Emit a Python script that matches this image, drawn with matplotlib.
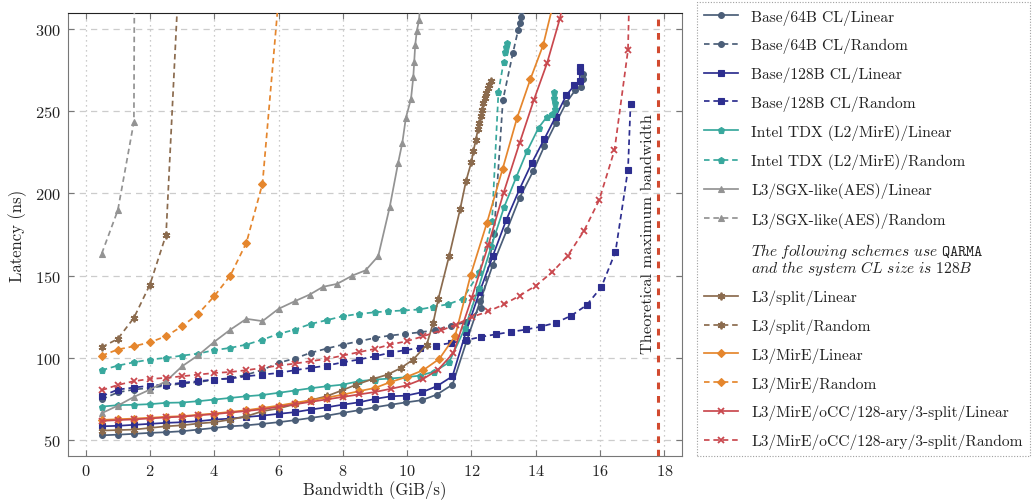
import matplotlib
matplotlib.use('Agg')
import matplotlib.pyplot as plt
from matplotlib.lines import Line2D

plt.rcParams['font.family'] = ['cmr10', 'DejaVu Serif']
plt.rcParams['mathtext.fontset'] = 'cm'
plt.rcParams['axes.formatter.use_mathtext'] = True
plt.rcParams['axes.unicode_minus'] = False

# ---------------- data ----------------
base64_lin_x = [0.5, 1.0, 1.5, 2.0, 2.5, 3.0, 3.5, 4.0, 4.5, 5.0, 5.5, 6.0, 6.5, 7.0, 7.5, 8.0, 8.5, 9.0, 9.5,
                9.97, 10.45, 10.92, 11.41, 11.85, 12.27, 12.67, 13.1, 13.5, 13.92, 14.27, 14.62, 14.95, 15.23, 15.42, 15.47, 15.47]
base64_lin_y = [52.6, 53.0, 53.5, 54.1, 54.5, 55.1, 56.1, 57.1, 58.1, 58.7, 59.6, 60.6, 61.8, 63.2, 64.6, 66.3, 67.9, 69.7, 71.3,
                72.7, 74.0, 77.4, 83.5, 110, 134.3, 156.7, 177.6, 197.4, 213.6, 228.9, 242.7, 255.3, 263.0, 265.1, 269.5, 272.6]

base64_rnd_x = [0.5, 1.0, 1.5, 2.0, 2.5, 3.0, 3.5, 4.0, 4.5, 5.0, 5.5, 6.0, 6.5, 7.0, 7.5, 8.0, 8.5, 9.0,
                9.46, 9.93, 10.4, 10.87, 11.36, 11.83, 12.3, 12.7, 12.98, 13.29, 13.45, 13.5, 13.53, 13.55, 13.57]
base64_rnd_y = [74.5, 78.8, 80.5, 81.5, 82.9, 84.1, 85.0, 86.5, 87.5, 89.5, 92.5, 96.8, 99.4, 102.9, 105.5, 107.9, 109.9, 112.0,
                113.4, 114.4, 115.4, 116.7, 119.5, 121.5, 130, 175, 257, 285.6, 299.4, 304, 307.5, 311, 315]

base128_lin_x = [0.5, 1.0, 1.5, 2.0, 2.5, 3.0, 3.5, 4.0, 4.5, 5.0, 5.5, 6.0, 6.5, 7.0, 7.5, 8.0, 8.5, 9.0, 9.5,
                 9.97, 10.45, 10.92, 11.41, 11.83, 12.25, 12.67, 13.08, 13.5, 13.88, 14.27, 14.62, 14.95, 15.2, 15.37, 15.37, 15.37]
base128_lin_y = [58.1, 58.4, 59.0, 59.6, 60.2, 60.6, 61.2, 62.2, 62.8, 63.8, 64.6, 65.7, 66.7, 68.3, 69.7, 71.3, 72.7, 74.8, 76.4,
                 76.8, 78.8, 82.5, 88.6, 115.7, 139.8, 162.2, 183.7, 202.8, 218.7, 233.3, 246.8, 259.8, 265.9, 268.5, 274.6, 277]

base128_rnd_x = [0.5, 1.0, 1.5, 2.0, 2.5, 3.0, 3.5, 4.0, 4.5, 5.0, 5.5, 6.0, 6.5, 7.0, 7.5, 8.0, 8.5, 9.0,
                 9.46, 9.93, 10.4, 10.89, 11.36, 11.83, 12.3, 12.77, 13.24, 13.71, 14.17, 14.64, 15.11, 15.58, 16.04, 16.48, 16.87, 16.95]
base128_rnd_y = [76.4, 80.5, 81.7, 82.9, 83.5, 84.6, 85.6, 86.6, 87.2, 88.6, 89.6, 90.6, 92.3, 93.7, 95.1, 97.1, 98.8, 100.8,
                 102.9, 104.5, 105.9, 107.3, 108.9, 110.6, 112.6, 114.2, 115.7, 117.1, 118.9, 121.3, 125.6, 131.9, 142.9, 164.4, 214.6, 254.7]

tdx_lin_x = [0.5, 1.0, 1.5, 2.0, 2.5, 3.0, 3.5, 4.0, 4.5, 5.0, 5.5, 6.0, 6.5, 7.0, 7.5, 8.0, 8.5, 9.0,
             9.46, 9.95, 10.4, 10.85, 11.3, 11.8, 12.22, 12.62, 13.02, 13.4, 13.73, 14.09, 14.35, 14.51, 14.61, 14.61, 14.58, 14.58]
tdx_lin_y = [70.1, 71.0, 71.2, 71.6, 72.4, 72.6, 73.4, 74.4, 75.4, 76.4, 77.2, 78.5, 79.9, 81.3, 82.5, 83.5, 85.6, 86.6,
             87.2, 88.0, 89.0, 91.5, 97.0, 118, 142.5, 168, 191.9, 210.2, 225.8, 240.1, 246.8, 248.2, 251.2, 255.3, 258.3, 261.8]

tdx_rnd_x = [0.5, 1.0, 1.5, 2.0, 2.5, 3.0, 3.5, 4.0, 4.5, 5.0, 5.5, 6.0, 6.5, 7.0, 7.5, 8.0, 8.5, 9.0,
             9.41, 9.88, 10.38, 10.81, 11.28, 11.73, 12.25, 12.64, 12.84, 13.0, 13.05, 13.08, 13.1]
tdx_rnd_y = [92.3, 95.1, 97.1, 98.8, 99.8, 101.2, 102.4, 104.5, 105.9, 107.9, 110.9, 114.4, 117.0, 120.5, 122.8, 125.2, 126.6, 127.6,
             128.2, 128.7, 129.3, 130.9, 132.5, 135.8, 152, 183, 262, 280, 286, 289, 292]

sgx_lin_x = [0.5, 1.0, 1.5, 2.0, 2.5, 3.0, 3.5, 4.0, 4.5, 5.0, 5.5, 6.0, 6.5,
             6.97, 7.38, 7.82, 8.3, 8.71, 9.1, 9.46, 9.72, 9.85, 9.96, 10.12, 10.19, 10.22, 10.25, 10.3, 10.37, 10.45]
sgx_lin_y = [66.1, 70.7, 76.0, 80.5, 85.6, 94.7, 101.4, 109.6, 117.0, 123.6, 122.2, 129.7, 134.3,
             138.4, 143.1, 144.9, 150.0, 153.2, 161.8, 191.9, 218.7, 230.9, 246.1, 257.7, 270.7, 280.3, 290.2, 299.0, 305.5, 330]

sgx_rnd_x = [0.5, 1.0, 1.5, 1.53]
sgx_rnd_y = [163.4, 189.8, 243.7, 400]

split_lin_x = [0.5, 1.0, 1.5, 2.0, 2.5, 3.0, 3.5, 4.0, 4.5, 5.0, 5.5, 6.0, 6.5, 7.0, 7.5,
               7.96, 8.42, 8.94, 9.39, 9.81, 10.19, 10.61, 10.81, 10.97, 11.31, 11.65, 11.83, 12.0, 12.06, 12.14,
               12.2, 12.25, 12.3, 12.33, 12.37, 12.41, 12.45, 12.5, 12.55, 12.6]
split_lin_y = [55.5, 55.8, 56.1, 57.1, 58.1, 58.7, 59.8, 60.6, 62.2, 64.2, 67.3, 69.0, 71.5, 74.0, 76.5,
               79.9, 83.5, 87.0, 89.6, 93.7, 98.8, 107.9, 121.2, 135.8, 162.2, 190.6, 207.5, 219.3, 225.8, 232.9,
               239.0, 243, 247, 251, 255, 258, 261, 264, 266, 268.5]

split_rnd_x = [0.5, 1.0, 1.5, 2.0, 2.5, 3.0]
split_rnd_y = [106.3, 111.4, 124.2, 144.5, 174.8, 373]

mire_lin_x = [0.5, 1.0, 1.5, 2.0, 2.5, 3.0, 3.5, 4.0, 4.5, 5.0, 5.5, 6.0, 6.5, 7.0, 7.5, 8.0, 8.5, 9.0,
              9.46, 9.98, 10.5, 11.0, 11.49, 11.98, 12.48, 12.97, 13.42, 13.83, 14.23, 14.6]
mire_lin_y = [62.0, 62.4, 62.8, 63.3, 63.9, 64.3, 65.1, 65.9, 66.9, 67.9, 69.3, 70.7, 72.4, 74.0, 75.6, 77.4, 79.5, 81.5,
              84.9, 88.2, 92.3, 99.2, 113.0, 150.6, 182.0, 215.0, 246.1, 269.5, 290.4, 320]

mire_rnd_x = [0.5, 1.0, 1.5, 2.0, 2.5, 3.0, 3.5, 4.0, 4.5, 5.0, 5.5, 6.05]
mire_rnd_y = [101.2, 104.9, 106.9, 109.3, 113.0, 119.1, 126.6, 137.4, 150.0, 170.0, 206.0, 330]

occ_lin_x = [0.5, 1.0, 1.5, 2.0, 2.5, 3.0, 3.5, 4.0, 4.5, 5.0, 5.5, 6.0, 6.5, 7.0, 7.5, 8.0, 8.5, 9.0, 9.5,
             9.98, 10.5, 10.97, 11.44, 12.01, 12.53, 13.0, 13.5, 13.94, 14.35, 14.75, 15.0]
occ_lin_y = [61.4, 61.9, 62.3, 62.9, 63.5, 64.0, 64.8, 65.5, 66.5, 67.4, 68.5, 70.0, 71.5, 73.0, 74.5, 76.0, 77.5, 79.0, 81.0,
             83.0, 87.0, 92.7, 102.9, 136.4, 168.9, 200.4, 230.9, 256.9, 279.3, 306.5, 330]

occ_rnd_x = [0.5, 1.0, 1.5, 2.0, 2.5, 3.0, 3.5, 4.0, 4.5, 5.0, 5.5, 6.0, 6.5, 7.0, 7.5, 8.0, 8.5, 9.0,
             9.46, 9.98, 10.5, 11.05, 11.52, 12.01, 12.53, 13.02, 13.5, 14.01, 14.51, 15.0, 15.5, 15.97, 16.45, 16.87, 16.92]
occ_rnd_y = [80.1, 83.3, 85.6, 87.0, 87.6, 88.6, 89.6, 90.6, 91.2, 92.3, 93.7, 95.1, 96.3, 97.8, 99.2, 101.2, 103.3, 105.3,
             107.9, 109.9, 113.0, 116.5, 120.1, 124.7, 128.2, 132.5, 137.7, 143.9, 152.0, 162.2, 177.2, 195.8, 226.4, 287.4, 330]

theoretical_max_bw = 17.8

x_ticks = [0, 2, 4, 6, 8, 10, 12, 14, 16, 18]
y_ticks = [50, 100, 150, 200, 250, 300]

labels = [
    'Base/64B CL/Linear', 'Base/64B CL/Random',
    'Base/128B CL/Linear', 'Base/128B CL/Random',
    'Intel TDX (L2/MirE)/Linear', 'Intel TDX (L2/MirE)/Random',
    'L3/SGX-like(AES)/Linear', 'L3/SGX-like(AES)/Random',
    'L3/split/Linear', 'L3/split/Random',
    'L3/MirE/Linear', 'L3/MirE/Random',
    'L3/MirE/oCC/128-ary/3-split/Linear', 'L3/MirE/oCC/128-ary/3-split/Random',
]
note_text = (r'$\mathit{The\ following\ schemes\ use\ }\mathtt{QARMA}$' + '\n' +
             r'$\mathit{and\ the\ system\ CL\ size\ is\ 128B}$')

# ---------------- styles ----------------
c_base64 = '#4b5e78'
c_base128 = '#2d2e8f'
c_tdx = '#38a89d'
c_sgx = '#939393'
c_split = '#8b6b4e'
c_mire = '#e5862d'
c_occ = '#c9484e'
c_theo = '#d24a2f'

dash = (0, (3.2, 2.2))
asterisk = (6, 2, 0)

series = [
    (base64_lin_x, base64_lin_y, c_base64, '-', 'o', 4.2),
    (base64_rnd_x, base64_rnd_y, c_base64, dash, 'o', 4.2),
    (base128_lin_x, base128_lin_y, c_base128, '-', 's', 4.2),
    (base128_rnd_x, base128_rnd_y, c_base128, dash, 's', 4.2),
    (tdx_lin_x, tdx_lin_y, c_tdx, '-', 'p', 4.6),
    (tdx_rnd_x, tdx_rnd_y, c_tdx, dash, 'p', 4.6),
    (sgx_lin_x, sgx_lin_y, c_sgx, '-', '^', 4.4),
    (sgx_rnd_x, sgx_rnd_y, c_sgx, dash, '^', 4.4),
    (split_lin_x, split_lin_y, c_split, '-', asterisk, 5.5),
    (split_rnd_x, split_rnd_y, c_split, dash, asterisk, 5.5),
    (mire_lin_x, mire_lin_y, c_mire, '-', 'D', 4.0),
    (mire_rnd_x, mire_rnd_y, c_mire, dash, 'D', 4.0),
    (occ_lin_x, occ_lin_y, c_occ, '-', 'x', 5.0),
    (occ_rnd_x, occ_rnd_y, c_occ, dash, 'x', 5.0),
]

fig = plt.figure(figsize=(10.32, 5.02), dpi=100)
ax = fig.add_axes([68 / 1032, 1 - 457 / 502, (682 - 68) / 1032, (457 - 14) / 502])

handles = []
for (xs, ys, col, ls, mk, ms), lab in zip(series, labels):
    mew = 1.3 if mk in ('x', asterisk) else 0.8
    h, = ax.plot(xs, ys, color=col, linestyle=ls, linewidth=1.25, marker=mk,
                 markersize=ms, markeredgewidth=mew, markerfacecolor=col,
                 markeredgecolor=col, label=lab, zorder=3)
    handles.append(h)

ax.axvline(theoretical_max_bw, color=c_theo, linestyle=(0, (2.2, 2.2)), linewidth=2.2, zorder=2)
ax.text(theoretical_max_bw - 0.3, 176, 'Theoretical maximum bandwidth', rotation=90,
        ha='center', va='center', fontsize=11.8, color='#222222')

ax.set_xlim(-0.55, 18.55)
ax.set_ylim(40, 310)
ax.set_xticks(x_ticks)
ax.set_yticks(y_ticks)
ax.tick_params(direction='in', top=True, right=True, length=4, width=0.8,
               color='#777777', labelsize=11.8, labelcolor='#222222', pad=5)
ax.set_axisbelow(True)
ax.grid(axis='y', linestyle=(0, (5, 4)), color='#cccccc', linewidth=0.9)
ax.grid(axis='x', linestyle=(0, (1, 3)), color='#bbbbbb', linewidth=0.9)
for s in ['left', 'right', 'bottom']:
    ax.spines[s].set_color('#777777')
ax.spines['top'].set_color('#222222')
ax.set_xlabel('Bandwidth (GiB/s)', fontsize=12, color='#222222', labelpad=1)
ax.set_ylabel('Latency (ns)', fontsize=12, color='#222222', labelpad=6)

note_handle = Line2D([], [], linestyle='none', marker=None)
leg_handles = handles[:8] + [note_handle] + handles[8:]
leg_labels = labels[:8] + [note_text] + labels[8:]
leg = fig.legend(leg_handles, leg_labels, loc='upper left',
                 bbox_to_anchor=(697 / 1032, 1 - 3 / 502), borderaxespad=0,
                 fontsize=11.2, handlelength=2.2, handletextpad=0.85,
                 labelspacing=0.85, borderpad=0.45, fancybox=False, frameon=True)
fr = leg.get_frame()
fr.set_linestyle((0, (1, 1.5)))
fr.set_edgecolor('#888888')
fr.set_linewidth(0.8)
for t in leg.get_texts():
    t.set_color('#222222')
leg.get_texts()[8].set_linespacing(0.85)

fig.savefig('out.png', dpi=100)
